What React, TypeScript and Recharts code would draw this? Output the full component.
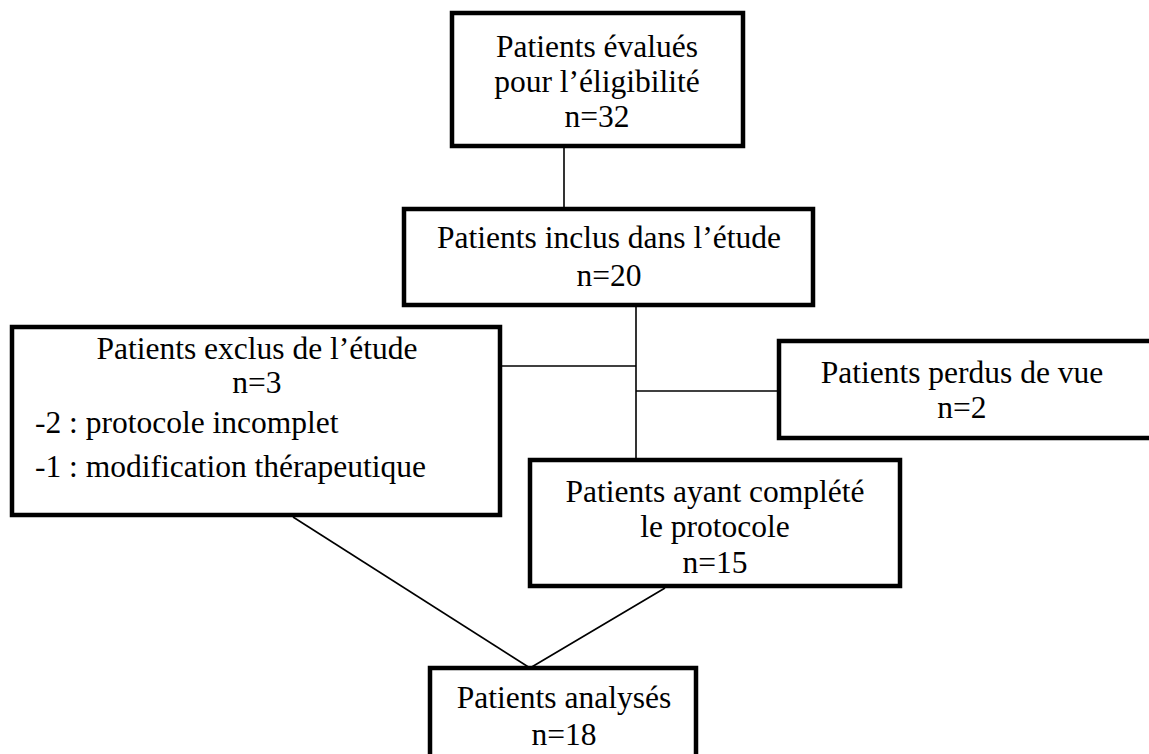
import {
  ReferenceArea,
  ReferenceLine,
  Scatter,
  ScatterChart,
  XAxis,
  YAxis
} from "recharts";

// flowchart content
const boxTitles = [
  ["Patients évalués", "pour l’éligibilité"],
  ["Patients inclus dans l’étude"],
  ["Patients exclus de l’étude"],
  ["Patients perdus de vue"],
  ["Patients ayant complété", "le protocole"],
  ["Patients analysés"]
];
const boxCounts = [32, 20, 3, 2, 15, 18];
const exclusionReasons = [
  "-2 : protocole incomplet",
  "-1 : modification thérapeutique"
];

// layout, in page pixels (the hidden axes map 1:1)
const frames = [
  { x1: 452, x2: 743, y1: 13, y2: 146, cx: 597, base: [57, 92, 127] },
  { x1: 404, x2: 813, y1: 209, y2: 305, cx: 609, base: [248, 286] },
  { x1: 12, x2: 500, y1: 327, y2: 515, cx: 257, base: [359, 393] },
  { x1: 779, x2: 1165, y1: 341, y2: 438, cx: 962, base: [383, 418] },
  { x1: 530, x2: 900, y1: 460, y2: 586, cx: 715, base: [502, 537, 573] },
  { x1: 430, x2: 696, y1: 668, y2: 775, cx: 564, base: [708, 745] }
];
const reasonLayout = { x: 35, base: [433, 477] };
const connectors = [
  [[564, 146], [564, 209]],
  [[636, 305], [636, 460]],
  [[500, 366], [636, 366]],
  [[636, 391], [779, 391]],
  [[293, 517], [530, 668]],
  [[665, 588], [530, 668]]
];

const W = 1149;
const H = 754;
const FONT = "'Liberation Serif', 'Times New Roman', serif";

type TextPoint = { x: number; y: number; text: string; anchor: string };

const textPoints: TextPoint[] = [];
frames.forEach((f, i) => {
  const lines = [...boxTitles[i], `n=${boxCounts[i]}`];
  lines.forEach((text, j) => {
    textPoints.push({ x: f.cx, y: f.base[j], text, anchor: "middle" });
  });
});
exclusionReasons.forEach((text, j) => {
  textPoints.push({
    x: reasonLayout.x,
    y: reasonLayout.base[j],
    text,
    anchor: "start"
  });
});

const TextShape = (props: any) => {
  const { cx, cy, payload } = props;
  return (
    <text
      x={cx}
      y={cy}
      textAnchor={payload.anchor}
      fontFamily={FONT}
      fontSize={31.5}
      fill="#000">
      {payload.text}
    </text>
  );
};

export default function App() {
  return (
    <div style={{ position: "absolute", left: 0, top: 0, background: "#fff" }}>
      <ScatterChart
        width={W}
        height={H}
        margin={{ top: 0, right: 0, bottom: 0, left: 0 }}>
        <XAxis
          type="number"
          dataKey="x"
          domain={[0, W]}
          allowDataOverflow
          hide
        />
        <YAxis
          type="number"
          dataKey="y"
          domain={[0, H]}
          reversed
          allowDataOverflow
          hide
        />
        {connectors.map((c, i) => (
          <ReferenceLine
            key={`c${i}`}
            segment={[
              { x: c[0][0], y: c[0][1] },
              { x: c[1][0], y: c[1][1] }
            ]}
            stroke="#000"
            strokeWidth={1.6}
            ifOverflow="visible"
          />
        ))}
        {frames.map((f, i) => (
          <ReferenceArea
            key={`b${i}`}
            x1={f.x1}
            x2={f.x2}
            y1={f.y1}
            y2={f.y2}
            fill="#fff"
            fillOpacity={1}
            stroke="#000"
            strokeWidth={4.5}
            ifOverflow="visible"
          />
        ))}
        <Scatter
          data={textPoints}
          shape={TextShape}
          isAnimationActive={false}
        />
      </ScatterChart>
    </div>
  );
}
